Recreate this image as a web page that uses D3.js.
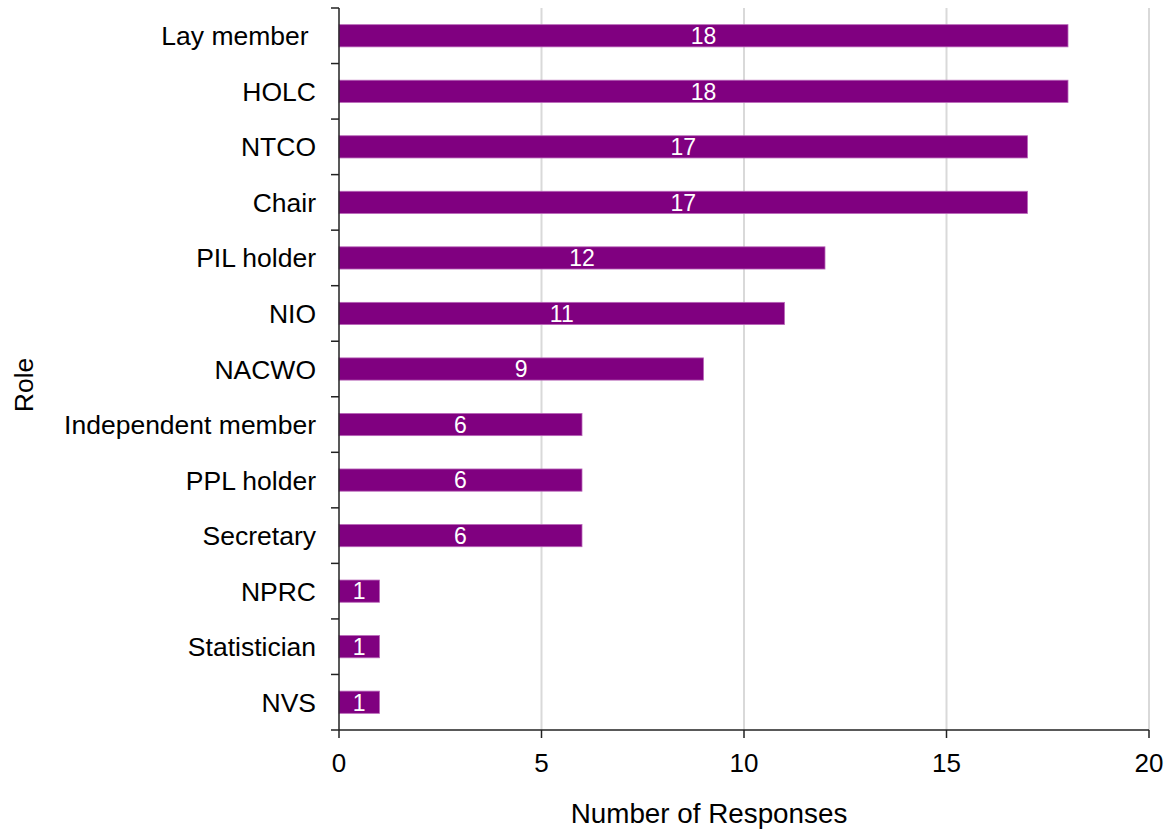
<!DOCTYPE html>
<html><head><meta charset="utf-8">
<script src="https://cdn.jsdelivr.net/npm/d3@7/dist/d3.min.js"></script>
<style>body{margin:0;background:#fff}svg{display:block}text{white-space:pre}</style>
</head><body>
<svg id="c" width="1173" height="830"></svg>
<script>
const categories = ["Lay member ","HOLC","NTCO","Chair","PIL holder","NIO","NACWO","Independent member","PPL holder","Secretary","NPRC","Statistician","NVS"];
const values = [18,18,17,17,12,11,9,6,6,6,1,1,1];
const xTicks = [0,5,10,15,20];
const xTitle = "Number of Responses";
const yTitle = "Role";

const svg = d3.select("#c");
const L = 339, R = 1149, T = 8, B = 730;
const font = "'Liberation Sans', Arial, sans-serif";

const x = d3.scaleLinear().domain([0,20]).range([L,R]);
const y = d3.scaleBand().domain(categories).range([T,B]).paddingInner(0.6).paddingOuter(0.3);

// gridlines
svg.append("g").selectAll("line").data(xTicks.filter(d=>d>0)).join("line")
  .attr("x1",d=>x(d)).attr("x2",d=>x(d)).attr("y1",T).attr("y2",B)
  .attr("stroke","#d9d9d9").attr("stroke-width",2);

// bars
svg.append("g").selectAll("rect").data(values).join("rect")
  .attr("x",x(0)).attr("y",(d,i)=>y(categories[i]))
  .attr("width",d=>x(d)-x(0)).attr("height",y.bandwidth())
  .attr("fill","#800080").attr("stroke","#b866b8").attr("stroke-width",0.8);

// data labels
svg.append("g").selectAll("text").data(values).join("text")
  .attr("x",d=>(x(d)+x(0))/2).attr("y",(d,i)=>y(categories[i])+y.bandwidth()/2)
  .attr("dy","0.36em").attr("text-anchor","middle")
  .attr("fill","#fff").style("font-family",font).style("font-size","23px")
  .text(d=>d);

// y axis
const boundaries = categories.map(c=>y(c)-y.step()*y.paddingInner()/2);
boundaries.push(B);
svg.append("line").attr("x1",L).attr("x2",L).attr("y1",T).attr("y2",B).attr("stroke","#222").attr("stroke-width",1.5);
svg.append("g").selectAll("line").data(boundaries).join("line")
  .attr("x1",L-8).attr("x2",L).attr("y1",d=>d).attr("y2",d=>d)
  .attr("stroke","#222").attr("stroke-width",1.5);
svg.append("g").selectAll("text").data(categories).join("text")
  .attr("x",316).attr("y",c=>y(c)+y.bandwidth()/2).attr("dy","0.36em")
  .attr("text-anchor","end").attr("fill","#000")
  .style("font-family",font).style("font-size","26.5px").text(c=>c);

// x axis
svg.append("line").attr("x1",L).attr("x2",R).attr("y1",B).attr("y2",B).attr("stroke","#222").attr("stroke-width",1.5);
svg.append("g").selectAll("line").data(xTicks).join("line")
  .attr("x1",d=>x(d)).attr("x2",d=>x(d)).attr("y1",B).attr("y2",B+8)
  .attr("stroke","#222").attr("stroke-width",1.5);
svg.append("g").selectAll("text").data(xTicks).join("text")
  .attr("x",d=>x(d)).attr("y",772).attr("text-anchor","middle").attr("fill","#000")
  .style("font-family",font).style("font-size","26px").text(d=>d);

svg.append("text").attr("x",(L+R)/2 - 35).attr("y",823).attr("text-anchor","middle")
  .style("font-family",font).style("font-size","27.8px").text(xTitle);
svg.append("text").attr("transform","translate(33,385) rotate(-90)").attr("text-anchor","middle")
  .style("font-family",font).style("font-size","26.5px").text(yTitle);
</script>
</body></html>
